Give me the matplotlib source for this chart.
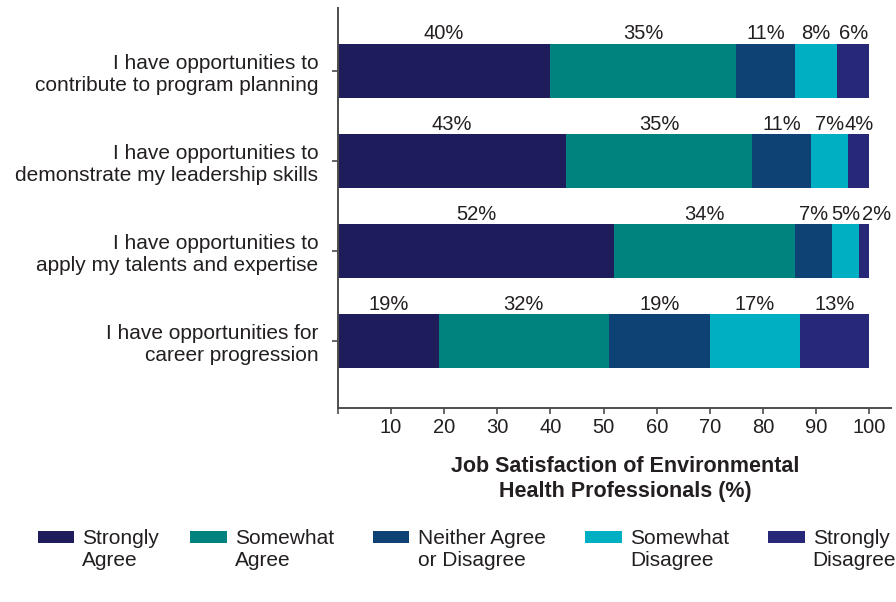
import matplotlib.pyplot as plt
from matplotlib.patches import Rectangle

plt.rcParams['font.family'] = ['Liberation Sans', 'DejaVu Sans']

statements = [
    "I have opportunities to\ncontribute to program planning",
    "I have opportunities to\ndemonstrate my leadership skills",
    "I have opportunities to\napply my talents and expertise",
    "I have opportunities for\ncareer progression",
]
responses = ["Strongly\nAgree", "Somewhat\nAgree", "Neither Agree\nor Disagree",
             "Somewhat\nDisagree", "Strongly\nDisagree"]
strongly_agree = [40, 43, 52, 19]
somewhat_agree = [35, 35, 34, 32]
neither = [11, 11, 7, 19]
somewhat_disagree = [8, 7, 5, 17]
strongly_disagree = [6, 4, 2, 13]

colors = ['#1f1c5c', '#00837e', '#0f4274', '#00afc2', '#272878']
txt = '#231f20'
axis_col = '#4d4d4d'

fig = plt.figure(figsize=(8.96, 6.02), dpi=100)
ax = fig.add_axes([0.377, 0.322, 0.617, 0.665])

series = [strongly_agree, somewhat_agree, neither, somewhat_disagree, strongly_disagree]
y = list(range(len(statements)))
left = [0] * len(statements)
for vals, c in zip(series, colors):
    ax.barh(y, vals, left=left, height=0.6, color=c)
    for i, v in enumerate(vals):
        # nudge very thin segments' labels to the right so they don't collide
        dx = 9 if v < 3 else 0
        ax.annotate(f"{v}%", (left[i] + v / 2, i - 0.35), xytext=(dx, 0),
                    textcoords='offset points', ha='center', va='baseline',
                    fontsize=14.5, color=txt)
    left = [l + v for l, v in zip(left, vals)]

ax.set_xlim(0, 104)
ax.set_ylim(3.74, -0.7)
ax.set_yticks(y)
ax.set_yticklabels(statements, fontsize=15, color=txt, linespacing=1.2)
ax.set_xticks(range(0, 101, 10))
ax.set_xticklabels([''] + [str(v) for v in range(10, 101, 10)], fontsize=14.5, color=txt)
ax.tick_params(axis='x', direction='out', length=4, width=1.2, color=axis_col, pad=3)
ax.tick_params(axis='y', direction='out', length=4, width=1.2, color=axis_col, pad=10)
for s in ['top', 'right']:
    ax.spines[s].set_visible(False)
for s in ['left', 'bottom']:
    ax.spines[s].set_color(axis_col)
    ax.spines[s].set_linewidth(1.4)

fig.text(0.698, 0.205, "Job Satisfaction of Environmental\nHealth Professionals (%)",
         ha='center', va='center', fontsize=15.5, fontweight='bold', color=txt,
         linespacing=1.25)

# legend drawn by hand so each swatch sits beside the first text line
legend_x = [0.042, 0.212, 0.416, 0.653, 0.857]
for lx, lab, c in zip(legend_x, responses, colors):
    fig.patches.append(Rectangle((lx, 0.098), 0.041, 0.020, facecolor=c,
                                 transform=fig.transFigure, figure=fig))
    fig.text(lx + 0.05, 0.122, lab, ha='left', va='top', fontsize=15,
             color=txt, linespacing=1.2)

fig.savefig('out.png', dpi=100)
